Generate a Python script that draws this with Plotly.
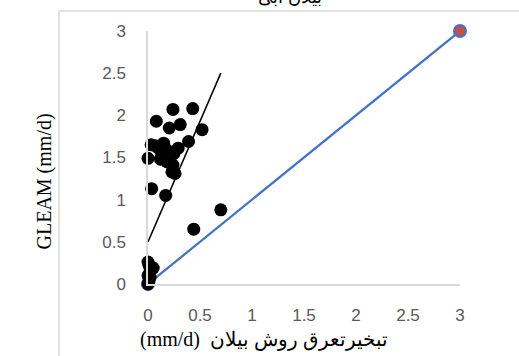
import plotly.graph_objects as go

# Scatter points: GLEAM vs water-balance ET (mm/d)
pts_x = [0.24, 0.43, 0.08, 0.205, 0.31, 0.52,
         0.03, 0.15, 0.39, 0.0, 0.10, 0.20, 0.29, 0.18, 0.24, 0.23, 0.26,
         0.07, 0.13, 0.17, 0.25, 0.12,
         0.035, 0.17, 0.70, 0.44,
         0.0, 0.01, 0.02, 0.05, 0.0, 0.02, 0.01, 0.0]
pts_y = [2.07, 2.08, 1.93, 1.85, 1.89, 1.83,
         1.65, 1.67, 1.69, 1.49, 1.61, 1.57, 1.61, 1.45, 1.41, 1.33, 1.31,
         1.64, 1.52, 1.60, 1.55, 1.48,
         1.13, 1.05, 0.88, 0.65,
         0.26, 0.22, 0.15, 0.19, 0.10, 0.08, 0.04, 0.0]

# 1:1 line
ref_x = [0, 3]
ref_y = [0, 3]

# Trend line
trend_x = [0, 0.7]
trend_y = [0.5, 2.5]

x_ticks = [0, 0.5, 1, 1.5, 2, 2.5, 3]
y_ticks = [0, 0.5, 1, 1.5, 2, 2.5, 3]

x_title = "(mm/d)  تبخیرتعرق روش بیلان"
y_title = "GLEAM (mm/d)"
top_title = "بیلان آبی"

fig = go.Figure()
fig.add_trace(go.Scatter(
    x=ref_x, y=ref_y, mode="lines+markers",
    line=dict(color="#4472C4", width=2.25),
    marker=dict(size=12, color="#C0504D", line=dict(color="#4472C4", width=2)),
    cliponaxis=False, showlegend=False))
fig.add_trace(go.Scatter(
    x=pts_x, y=pts_y, mode="markers",
    marker=dict(size=13, color="black"),
    cliponaxis=False, showlegend=False))
fig.add_trace(go.Scatter(
    x=trend_x, y=trend_y, mode="lines",
    line=dict(color="black", width=1.5),
    cliponaxis=False, showlegend=False))

tick_font = dict(family="Liberation Sans", size=17, color="#595959")
axis_common = dict(showgrid=False, zeroline=False, showline=True,
                   linecolor="#D9D9D9", linewidth=1.5, ticks="",
                   tickfont=tick_font)

fig.update_xaxes(range=[0, 3], tickvals=x_ticks,
                 ticktext=[str(v) for v in x_ticks], ticklabelstandoff=15,
                 **axis_common)
fig.update_yaxes(range=[0, 3], tickvals=y_ticks,
                 ticktext=[str(v) for v in y_ticks], ticklabelstandoff=17,
                 **axis_common)

L, R, T, B = 148, 59, 31, 72
W, H = 519, 356
pw, ph = W - L - R, H - T - B

def px(xp):
    return (xp - L) / pw

def py(yp):
    return (H - B - yp) / ph

fig.update_layout(
    width=W, height=H,
    margin=dict(l=L, r=R, t=T, b=B),
    paper_bgcolor="white", plot_bgcolor="white",
    shapes=[
        dict(type="line", xref="paper", yref="paper",
             x0=px(59), x1=px(530), y0=py(11), y1=py(11),
             line=dict(color="#D9D9D9", width=1.5)),
        dict(type="line", xref="paper", yref="paper",
             x0=px(59), x1=px(59), y0=py(11), y1=py(370),
             line=dict(color="#D9D9D9", width=1.5)),
    ],
    annotations=[
        dict(text=y_title, xref="paper", yref="paper", x=px(30), y=py(182),
             textangle=-90, showarrow=False,
             font=dict(family="Liberation Serif", size=20, color="black")),
        dict(text=x_title, xref="paper", yref="paper", x=px(138), y=py(339),
             xanchor="left", yanchor="middle", showarrow=False,
             font=dict(family="Liberation Serif", size=20, color="black")),
        dict(text=top_title, xref="paper", yref="paper", x=px(290), y=py(9),
             xanchor="center", yanchor="bottom", showarrow=False,
             font=dict(family="Liberation Sans", size=18, color="black")),
    ],
)

fig.write_html(
    "out.html",
    config={"displayModeBar": False},
    post_script="document.body.style.margin='0';document.body.style.overflow='hidden';",
)
